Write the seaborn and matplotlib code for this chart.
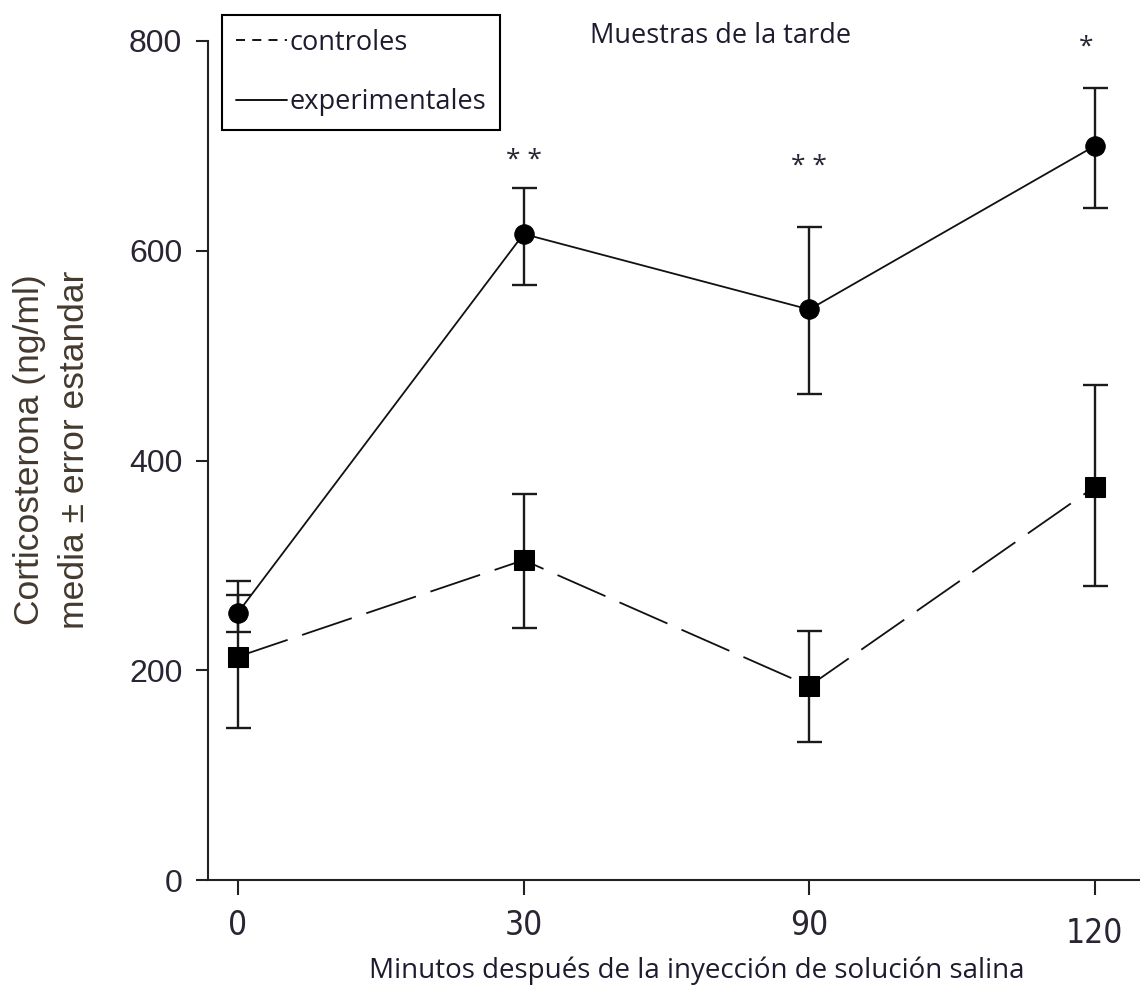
import matplotlib
matplotlib.use("Agg")
import matplotlib.pyplot as plt
from matplotlib.lines import Line2D
from matplotlib import font_manager
from matplotlib.font_manager import FontProperties
from matplotlib.transforms import ScaledTranslation
import seaborn as sns
import pandas as pd
import numpy as np

# ---- data ----
minutos = ["0", "30", "90", "120"]
controles_media = [213, 305, 185, 375]
controles_sup = [285, 368, 237, 472]
controles_inf = [145, 240, 132, 280]
experimentales_media = [255, 616, 544, 700]
experimentales_sup = [272, 660, 623, 755]
experimentales_inf = [236, 567, 463, 641]
asteriscos = ["", "* *", "* *", "*"]
asteriscos_y = [0, 686, 680, 794]
y_ticks = [0, 200, 400, 600, 800]

sns.set_style("ticks")
plt.rcParams["font.family"] = ["Liberation Sans", "DejaVu Sans"]

# look for a condensed sans for the x tick labels
narrow_file = None
files = font_manager.findSystemFonts()
for key in ["LiberationSansNarrow-Regular", "DejaVuSansCondensed.ttf", "Roboto_Condensed", "RobotoCondensed-Regular",
            "OpenSans_Condensed", "OpenSansCondensed"]:
    hits = [f for f in files if key.lower() in f.lower() and "bold" not in f.lower() and "italic" not in f.lower()]
    if hits:
        narrow_file = hits[0]
        break
if narrow_file:
    xtick_fp = FontProperties(fname=narrow_file, size=24)
else:
    xtick_fp = FontProperties(family=["Liberation Sans", "DejaVu Sans"], size=23)

pos = list(range(len(minutos)))
df = pd.DataFrame({
    "pos": pos * 2,
    "valor": controles_media + experimentales_media,
    "grupo": ["controles"] * 4 + ["experimentales"] * 4,
})

fig = plt.figure(figsize=(11.4, 9.92), dpi=100)
ax = fig.add_axes([208 / 1140, 1 - 880 / 992, (1140 - 208) / 1140, (880 - 41) / 992])

sns.lineplot(data=df, x="pos", y="valor", style="grupo",
             markers={"controles": "s", "experimentales": "o"},
             dashes={"controles": (29, 8.5), "experimentales": ""},
             color="#111111", markersize=14, linewidth=1.3,
             markeredgecolor="black", markerfacecolor="black", legend=False, ax=ax, zorder=3)

for media, sup, inf in [(controles_media, controles_sup, controles_inf),
                        (experimentales_media, experimentales_sup, experimentales_inf)]:
    m = np.array(media)
    err = np.vstack([m - np.array(inf), np.array(sup) - m])
    ax.errorbar(pos, m, yerr=err, fmt="none", ecolor="#1a1a1a",
                elinewidth=1.7, capsize=9, capthick=1.7, zorder=2)

ax.set_xlim(-0.105, 3.158)
ax.set_ylim(0, 800)
ax.set_yticks(y_ticks)
ax.set_xticks(pos)
ax.set_xticklabels(minutos)
ax.set_xlabel("")
ax.set_ylabel("")

for s in ["top", "right"]:
    ax.spines[s].set_visible(False)
for s in ["left", "bottom"]:
    ax.spines[s].set_linewidth(1.5)
    ax.spines[s].set_color("#222222")

ax.tick_params(axis="y", length=8.5, width=1.5, pad=10, labelsize=23, labelcolor="#2a2433", color="#222222")
ax.tick_params(axis="x", length=11, width=1.5, pad=10, labelcolor="#2a2433", color="#222222")
for lbl in ax.get_xticklabels():
    lbl.set_fontproperties(xtick_fp)
# last x tick label sits a bit lower
xl = ax.get_xticklabels()[-1]
xl.set_transform(xl.get_transform() + ScaledTranslation(0, -8 / 100, fig.dpi_scale_trans))

# asterisks
for i, (a, yv) in enumerate(zip(asteriscos, asteriscos_y)):
    if a:
        ax.text(pos[i] - (0.03 if i == 3 else 0), yv, a, ha="center", va="center",
                fontsize=19, family=["Open Sans", "DejaVu Sans"], color="#2a2433")

# title
fig.text(721 / 1140, 1 - 36 / 992, "Muestras de la tarde", ha="center", va="center",
         fontsize=19.5, family=["Open Sans", "DejaVu Sans"], color="#1f1a2e")

# labels
fig.text(697 / 1140, 1 - 971 / 992, "Minutos después de la inyección de solución salina",
         ha="center", va="center", fontsize=20, family=["Open Sans", "DejaVu Sans"], color="#1f1a2e")
fig.text(52 / 1140, 1 - 450 / 992, "Corticosterona (ng/ml)\nmedia \u00b1 error estandar",
         rotation=90, ha="center", va="center", fontsize=25.5, linespacing=1.45,
         multialignment="center", color="#43392f")

handles = [Line2D([], [], color="black", linewidth=1.3, dashes=(5, 4)),
           Line2D([], [], color="black", linewidth=1.3)]
leg = ax.legend(handles, ["controles", "experimentales"], loc="upper left",
                bbox_to_anchor=(222 / 1140, 1 - 15 / 992), bbox_transform=fig.transFigure,
                fancybox=False, framealpha=1, edgecolor="black", handlelength=1.9,
                handletextpad=0.1, labelspacing=1.18, borderpad=0.5, borderaxespad=0,
                prop={"family": ["Open Sans", "DejaVu Sans"], "size": 19.5})
leg.get_frame().set_linewidth(1.5)
for t in leg.get_texts():
    t.set_color("#1f1a2e")

fig.savefig("out.png", dpi=100)
